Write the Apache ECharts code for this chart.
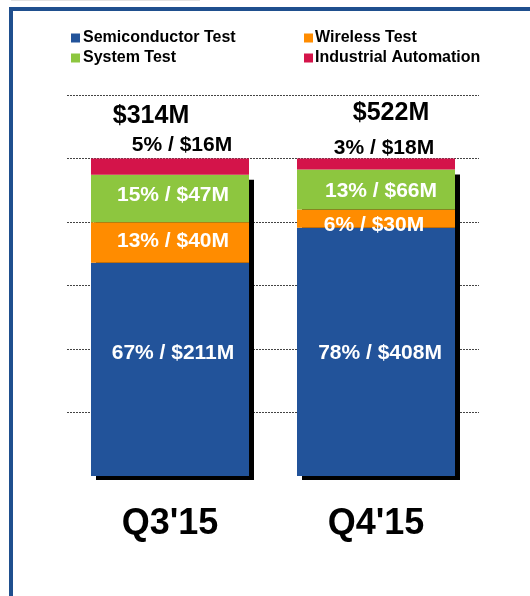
<!DOCTYPE html>
<html>
<head>
<meta charset="utf-8">
<script src="https://cdn.jsdelivr.net/npm/echarts@6/dist/echarts.min.js"></script>
<style>
  html, body { margin: 0; padding: 0; background: #fff; }
  #chart { width: 530px; height: 596px; }
</style>
</head>
<body>
<div id="chart"></div>
<script>
// quarters and revenue by segment ($M)
const quarters = ["Q3'15", "Q4'15"];
const totalsUSD = [314, 522];
const semiUSD = [211, 408];
const wirelessUSD = [40, 30];
const systemUSD = [47, 66];
const industrialUSD = [16, 18];
// percent labels as printed
const semiPct = [67, 78];
const wirelessPct = [13, 6];
const systemPct = [15, 13];
const industrialPct = [5, 3];

const FONT = 'Arial, "Liberation Sans", sans-serif';
const colors = {
  semi: '#22539a',
  wireless: '#ff8c00',
  system: '#8dc63f',
  industrial: '#d4144a',
};
const BAR_W = 158;

// bar heights are shares of each quarter's total
const share = arr => arr.map((v, i) => (v / totalsUSD[i]) * 100);

// label nudges per quarter, matching the slide
const nudge = {
  semi: [[3, -16], [4, 1]],
  wireless: [[3, -1], [-2, 6]],
  system: [[3, -3], [5, 2]],
  industrial: [[12, 2], [8, 5]],
  total: [[-19, -42], [15, -45]],
};

function makeSeries(name, key, usd, pct, inside) {
  return {
    name,
    type: 'bar',
    stack: 'all',
    barWidth: BAR_W,
    z: 2,
    itemStyle: { color: colors[key] },
    label: {
      show: true,
      position: inside ? 'inside' : 'top',
      distance: 5,
      color: inside ? '#fff' : '#000',
      fontFamily: FONT,
      fontWeight: 'bold',
      fontSize: 21,
      formatter: p => `${pct[p.dataIndex]}% / $${usd[p.dataIndex]}M`,
    },
    data: share(usd).map((v, i) => ({ value: v, label: { offset: nudge[key][i] } })),
  };
}

const semiShare = share(semiUSD);
const wirelessShare = share(wirelessUSD);
const systemShare = share(systemUSD);
const industrialShare = share(industrialUSD);
const shadowTop = quarters.map((q, i) => semiShare[i] + wirelessShare[i] + systemShare[i]);
const stackTop = quarters.map((q, i) => shadowTop[i] + industrialShare[i]);

const chart = echarts.init(document.getElementById('chart'), null, { renderer: 'canvas' });

chart.setOption({
  animation: false,
  textStyle: { fontFamily: FONT },
  graphic: [
    { type: 'rect', shape: { x: 11, y: 0, width: 189, height: 1 }, style: { fill: '#e2e2e2' } },
    { type: 'rect', shape: { x: 9, y: 7, width: 521, height: 4 }, style: { fill: '#1f4f8e' } },
    { type: 'rect', shape: { x: 9, y: 7, width: 4, height: 589 }, style: { fill: '#1f4f8e' } },
  ],
  legend: [
    {
      orient: 'vertical',
      left: 71,
      top: 30,
      padding: 0,
      itemGap: 4,
      itemWidth: 9,
      itemHeight: 9,
      icon: 'rect',
      selectedMode: false,
      textStyle: { fontFamily: FONT, fontWeight: 'bold', fontSize: 16, lineHeight: 16, color: '#000', padding: [0, 0, 0, -2] },
      data: ['Semiconductor Test', 'System Test'],
    },
    {
      orient: 'vertical',
      left: 304,
      top: 30,
      padding: 0,
      itemGap: 4,
      itemWidth: 9,
      itemHeight: 9,
      icon: 'rect',
      selectedMode: false,
      textStyle: { fontFamily: FONT, fontWeight: 'bold', fontSize: 16, lineHeight: 16, color: '#000', padding: [0, 0, 0, -3] },
      data: ['Wireless Test', 'Industrial Automation'],
    },
  ],
  grid: { left: 67, right: 51, top: 95, bottom: 120 },
  xAxis: {
    type: 'category',
    data: quarters,
    axisLine: { show: false },
    axisTick: { show: false },
    axisLabel: {
      margin: 30,
      color: '#000',
      fontFamily: FONT,
      fontWeight: 'bold',
      fontSize: 36,
    },
  },
  yAxis: {
    type: 'value',
    min: 0,
    max: 120,
    interval: 20,
    axisLine: { show: false },
    axisTick: { show: false },
    axisLabel: { show: false },
    splitLine: {
      show: true,
      showMinLine: false,
      lineStyle: { color: '#444', width: 1, type: [2, 1] },
    },
  },
  series: [
    {
      name: 'shadow',
      type: 'custom',
      z: 1,
      silent: true,
      renderItem: (params, api) => {
        const top = api.coord([api.value(0), api.value(1)]);
        const base = api.coord([api.value(0), 0]);
        return {
          type: 'rect',
          shape: { x: top[0] - BAR_W / 2 + 5, y: top[1] + 5, width: BAR_W, height: base[1] - top[1] - 1 },
          style: { fill: '#000' },
        };
      },
      data: shadowTop.map((v, i) => [i, v]),
    },
    makeSeries('Semiconductor Test', 'semi', semiUSD, semiPct, true),
    makeSeries('Wireless Test', 'wireless', wirelessUSD, wirelessPct, true),
    makeSeries('System Test', 'system', systemUSD, systemPct, true),
    makeSeries('Industrial Automation', 'industrial', industrialUSD, industrialPct, false),
    {
      name: 'total',
      type: 'custom',
      z: 3,
      silent: true,
      renderItem: (params, api) => {
        const i = params.dataIndex;
        const pt = api.coord([api.value(0), api.value(1)]);
        return {
          type: 'text',
          x: pt[0] + nudge.total[i][0],
          y: pt[1] + nudge.total[i][1],
          style: {
            text: `$${totalsUSD[i]}M`,
            fill: '#000',
            font: `bold 25px ${FONT}`,
            align: 'center',
            verticalAlign: 'middle',
          },
        };
      },
      data: stackTop.map((v, i) => [i, v]),
    },
  ],
});
</script>
</body>
</html>
